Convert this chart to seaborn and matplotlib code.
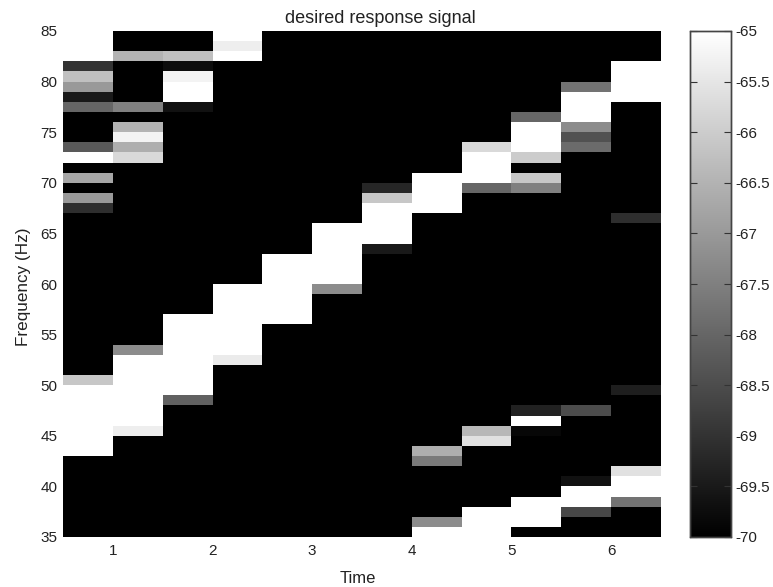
import numpy as np
import pandas as pd
import matplotlib
matplotlib.use("Agg")
import matplotlib.pyplot as plt
import seaborn as sns

# Each column: lower edge of frequency bin (Hz) -> level (dB); unlisted bins sit at the floor.
FLOOR = -70.0
freq_bins = list(range(84, 34, -1))
time_bins = [0.75, 1.25, 1.75, 2.25, 2.75, 3.25, 3.75, 4.25, 4.75, 5.25, 5.75, 6.25]

col_00 = {84: -65, 83: -65, 82: -65, 81: -69, 80: -66.25, 79: -67, 78: -69.5, 77: -68,
          73: -68.25, 72: -65, 70: -66.75, 68: -67, 67: -69.1,
          49: -65, 48: -65, 47: -65, 46: -65, 45: -65, 44: -65, 43: -65, 50: -66.1}
col_01 = {82: -66.5, 77: -67.5, 75: -66.5, 74: -65.25, 73: -66.6, 72: -65.75,
          53: -67.25, 52: -65, 51: -65, 50: -65, 49: -65, 48: -65, 47: -65, 46: -65, 45: -65.35}
col_02 = {82: -66.25, 81: -69.75, 80: -65.25, 79: -65, 78: -65, 77: -69.65,
          56: -65, 55: -65, 54: -65, 53: -65, 52: -65, 51: -65, 50: -65, 49: -65, 48: -68.1}
col_03 = {84: -65, 83: -65.35, 82: -65,
          59: -65, 58: -65, 57: -65, 56: -65, 55: -65, 54: -65, 53: -65, 52: -65.4}
col_04 = {62: -65, 61: -65, 60: -65, 59: -65, 58: -65, 57: -65, 56: -65}
col_05 = {65: -65, 64: -65, 63: -65, 62: -65, 61: -65, 60: -65, 59: -67.25}
col_06 = {69: -69.25, 68: -66.1, 67: -65, 66: -65, 65: -65, 64: -65, 63: -69.5}
col_07 = {70: -65, 69: -65, 68: -65, 67: -65,
          43: -66.6, 42: -67.6, 36: -67.25, 35: -65}
col_08 = {73: -65.75, 72: -65, 71: -65, 70: -65, 69: -68,
          45: -66.4, 44: -65.6, 37: -65, 36: -65, 35: -65}
col_09 = {76: -68, 75: -65, 74: -65, 73: -65, 72: -66, 70: -66.1, 69: -67.5,
          47: -69.35, 46: -65, 45: -69.85, 38: -65, 37: -65, 36: -65}
col_10 = {79: -67.75, 78: -65, 77: -65, 76: -65, 75: -67.25, 74: -68.4, 73: -67.9,
          47: -68.5, 40: -69.65, 39: -65, 38: -65, 37: -68.6}
col_11 = {81: -65, 80: -65, 79: -65, 78: -65, 66: -69.1, 49: -69.4,
          41: -65.6, 40: -65, 39: -65, 38: -67.75}
columns = [col_00, col_01, col_02, col_03, col_04, col_05,
           col_06, col_07, col_08, col_09, col_10, col_11]

time_ticks = [1, 2, 3, 4, 5, 6]
freq_ticks = [85, 80, 75, 70, 65, 60, 55, 50, 45, 40, 35]
cbar_ticks = [-70, -69.5, -69, -68.5, -68, -67.5, -67, -66.5, -66, -65.5, -65]

frame = pd.DataFrame(
    {t: [c.get(f, FLOOR) for f in freq_bins] for t, c in zip(time_bins, columns)},
    index=freq_bins,
)

W, H = 773, 587
plt.rcParams['font.family'] = ['Liberation Sans', 'DejaVu Sans']
TEXT = '#222222'
TICK_SIZE = 11
fig = plt.figure(figsize=(W / 100, H / 100), dpi=100, facecolor='white')
ax = fig.add_axes([63 / W, (H - 537) / H, 598 / W, 506 / H])
cax = fig.add_axes([690 / W, (H - 537) / H, 41 / W, 506 / H])

sns.heatmap(frame, ax=ax, cbar_ax=cax, cmap='gray', vmin=-70, vmax=-65,
            xticklabels=False, yticklabels=False,
            cbar_kws={'ticks': cbar_ticks})

# map data values on to heatmap cell coordinates
ax.set_xticks([(t - 0.5) / 0.5 for t in time_ticks])
ax.set_xticklabels([str(t) for t in time_ticks], fontsize=TICK_SIZE)
ax.set_yticks([85 - f for f in freq_ticks])
ax.set_yticklabels([str(f) for f in freq_ticks], rotation=0, fontsize=TICK_SIZE)
ax.tick_params(axis='both', length=0, colors=TEXT)
ax.tick_params(axis='x', pad=5)
ax.tick_params(axis='y', pad=4)
ax.set_title('desired response signal', fontsize=13, color=TEXT, pad=5.5, x=(380 - 63) / 598)
ax.set_xlabel('Time', fontsize=12, color=TEXT)
ax.set_ylabel('Frequency (Hz)', fontsize=12.3, color=TEXT)
ax.xaxis.set_label_coords((358 - 63) / 598, -(583 - 537) / 506, transform=ax.transAxes)
ax.xaxis.label.set_va('baseline')
ax.yaxis.set_label_coords((31 - 63) / 598, (537 - 287) / 506, transform=ax.transAxes)

cax.set_yticks(cbar_ticks)
cax.set_yticklabels(['-70', '-69.5', '-69', '-68.5', '-68', '-67.5', '-67',
                     '-66.5', '-66', '-65.5', '-65'], fontsize=TICK_SIZE)
cax.tick_params(axis='y', which='both', left=True, right=True, direction='in',
                length=5, width=0.8, color='#333333',
                labelcolor=TEXT, pad=3)
for s in cax.spines.values():
    s.set_visible(True)
    s.set_edgecolor('#444444')
    s.set_linewidth(1.0)

fig.savefig('out.png', dpi=100, facecolor='white')
